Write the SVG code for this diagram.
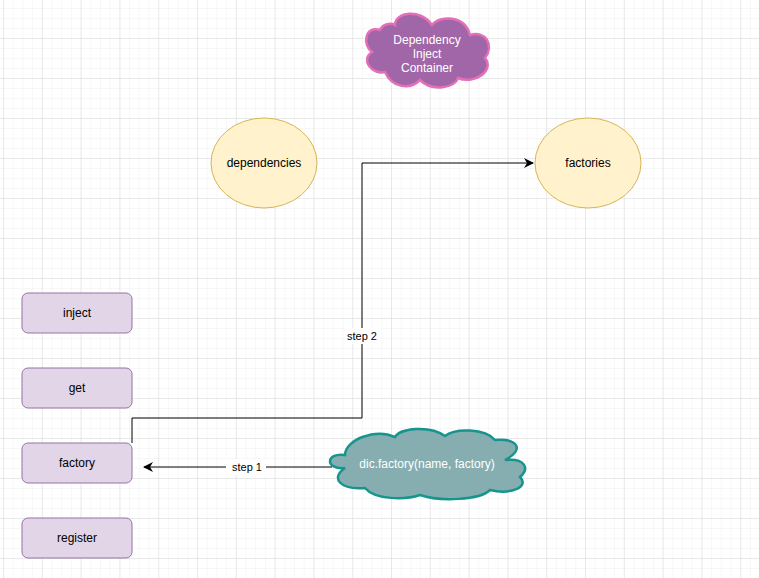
<svg xmlns="http://www.w3.org/2000/svg" width="759" height="578" viewBox="0 0 759 578">
<defs>
<pattern id="minor" x="3" y="-2" width="9.7" height="10" patternUnits="userSpaceOnUse"><path d="M0 0V10M0 0H9.7" stroke="#f0f0f0" fill="none" stroke-width="1"/></pattern>
<pattern id="major" x="3" y="-2" width="38.8" height="40" patternUnits="userSpaceOnUse"><path d="M0 0V40M0 0H38.8" stroke="#dcdcdc" fill="none" stroke-width="1"/></pattern>
<marker id="arr" markerWidth="10" markerHeight="10" refX="9" refY="5" orient="auto" markerUnits="userSpaceOnUse"><path d="M0 0L10 5L0 10L3 5Z" fill="#000"/></marker>
<style>
.box{fill:#e1d5e7;stroke:#9673a6;stroke-width:1}
.ell{fill:#fff2cc;stroke:#d6b656;stroke-width:1}
.t{font-family:"Liberation Sans",Arial,sans-serif;font-size:12px;text-anchor:middle;fill:#000}
.w{fill:#fff}
.edge{fill:none;stroke:#000;stroke-width:1}
</style>
</defs>
<rect width="759" height="578" fill="#fff"/>
<rect width="759" height="578" fill="url(#minor)"/>
<rect width="759" height="578" fill="url(#major)"/>
<g id="cloud-dic">
<path d="M380 30 C365 25 362 45 372 52 C360 60 372 75 385 72 C392 88 410 90 420 80 C432 92 455 88 458 78 C475 85 495 70 485 58 C495 45 485 30 470 35 C465 15 440 15 432 25 C420 8 395 12 395 25 C390 22 382 25 380 30 Z" fill="#a166a8" stroke="#e36fb8" stroke-width="2.5"/>
<text class="t w" x="427" y="44">Dependency</text>
<text class="t w" x="427" y="58">Inject</text>
<text class="t w" x="427" y="72">Container</text>
</g>
<g id="dependencies"><ellipse class="ell" cx="264" cy="163" rx="53" ry="45"/><text class="t" x="264" y="167">dependencies</text></g>
<g id="factories"><ellipse class="ell" cx="588" cy="163" rx="53" ry="45"/><text class="t" x="588" y="167">factories</text></g>
<g id="inject"><rect class="box" x="22" y="293" width="110" height="40" rx="6"/><text class="t" x="77" y="317">inject</text></g>
<g id="get"><rect class="box" x="22" y="368" width="110" height="40" rx="6"/><text class="t" x="77" y="392">get</text></g>
<g id="factory"><rect class="box" x="22" y="443" width="110" height="40" rx="6"/><text class="t" x="77" y="467">factory</text></g>
<g id="register"><rect class="box" x="22" y="518" width="110" height="40" rx="6"/><text class="t" x="77" y="542">register</text></g>
<g id="cloud-call">
<path d="M345 455 C325 452 325 470 345 468 C330 478 340 490 365 488 C375 500 405 500 420 495 C440 502 480 500 490 490 C510 495 530 487 520 477 C530 468 525 458 505 460 C525 450 518 438 495 440 C485 428 455 428 445 436 C430 425 400 428 395 437 C375 428 345 440 345 455 Z" fill="#86aeb0" stroke="#16958f" stroke-width="2.5"/>
<text class="t w" x="427" y="468">dic.factory(name, factory)</text>
</g>
<g id="connectors">
<path class="edge" d="M332 467H144" marker-end="url(#arr)"/>
<rect x="226" y="459" width="40" height="16" fill="#fff"/>
<text class="t" x="247" y="471" style="font-size:11px">step 1</text>
<path class="edge" d="M132 443V418H362V163H533" marker-end="url(#arr)"/>
<rect x="344" y="328" width="36" height="16" fill="#fff"/>
<text class="t" x="362" y="340" style="font-size:11px">step 2</text>
</g>
</svg>
